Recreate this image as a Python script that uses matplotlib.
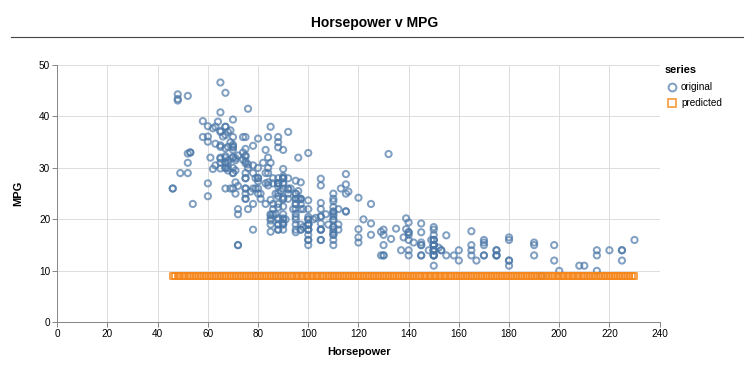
import matplotlib
matplotlib.use("Agg")
import matplotlib.pyplot as plt
from matplotlib.lines import Line2D

plt.rcParams['font.family'] = ['Liberation Sans', 'DejaVu Sans']

# ---- data (cars dataset: Horsepower vs Miles_per_Gallon) ----
horsepower = [
    130, 165, 150, 150, 140, 198, 220, 215, 225, 190,
    170, 160, 150, 225, 95, 95, 97, 85, 88, 46,
    87, 90, 95, 113, 90, 215, 200, 210, 193,
    88, 90, 95,
    100, 105, 100, 88, 100, 165, 175, 153, 150, 180,
    170, 175, 110, 72, 100, 88, 86, 90, 70, 76,
    65, 69, 60, 70, 95, 80, 54, 90, 86, 165,
    175, 150, 153, 150, 208, 155, 160, 190, 97, 150,
    130, 140, 150, 112, 76, 87, 69, 86, 92, 97,
    80, 88, 175, 150, 145, 137, 150, 198, 150, 158,
    150, 215, 225, 175, 105, 100, 100, 88, 95, 46,
    150, 167, 170, 180, 100, 88, 72, 94, 90, 85,
    107, 90, 145, 230, 49, 75, 91, 112, 150, 110,
    122, 180, 95,
    100, 100, 67, 80, 65, 75, 100, 110, 105, 140,
    150, 150, 140, 150, 83, 67, 78, 52, 61, 75,
    75, 75, 97, 93, 67, 95, 105, 72, 72, 170,
    145, 150, 148, 110, 105, 110, 95, 110, 110, 129,
    75, 83, 100, 78, 96, 71, 97, 97, 70, 90,
    95, 88, 98, 115, 53, 86, 81, 92, 79, 83,
    140, 150, 120, 152, 100, 105, 81, 90, 52, 60,
    70, 53, 100, 78, 110, 95, 71, 70, 75, 72,
    102, 150, 88, 108, 120, 180, 145, 130, 150,
    68, 80, 58, 96, 70, 145, 110, 145, 130, 110,
    105, 100, 98, 180, 170, 190, 149, 78, 88, 75,
    89, 63, 83, 67, 78, 97, 110, 110, 48, 66,
    52, 70, 60, 110, 140, 139, 105, 95, 85, 88,
    100, 90, 105, 85, 110, 120, 145, 165, 139, 140,
    68, 95, 97, 75, 95, 105, 85, 97, 103, 125,
    115, 133, 71, 68, 115, 85, 88, 90, 110, 130,
    129, 138, 135, 155, 142, 125, 150, 71, 65, 80,
    80, 77, 125, 71, 90, 70, 70, 65, 69, 90,
    115, 115, 90, 76, 60, 70, 65, 90, 88, 90,
    90, 78, 90, 75, 92, 75, 65, 105, 65, 48,
    48, 67, 67, 67,
    67, 62, 132, 100, 88,
    72, 84, 84, 92, 110, 84, 58, 64, 60, 67,
    65, 62, 68, 63, 65, 65, 74,
    75, 75, 100, 74, 80, 76, 116, 120, 110, 105,
    88, 85, 88, 88, 88, 85, 84, 90, 92,
    74, 68, 68, 63, 70, 88, 75, 70, 67, 67,
    67, 110, 85, 92, 112, 96, 84, 90, 86, 52, 84, 79, 82,
]
mpg = [
    18, 15, 18, 16, 17, 15, 14, 14, 14, 15,
    15, 14, 15, 14, 24, 22, 18, 21, 27, 26,
    25, 24, 25, 26, 21, 10, 10, 11, 9,
    27, 28, 25,
    19, 16, 17, 19, 18, 14, 14, 14, 14, 12,
    13, 13, 18, 22, 19, 18, 23, 28, 30, 30,
    31, 35, 27, 26, 24, 25, 23, 20, 21, 13,
    14, 15, 14, 17, 11, 13, 12, 13, 19, 15,
    13, 13, 14, 18, 22, 21, 26, 22, 28, 23,
    28, 27, 13, 14, 13, 14, 15, 12, 13, 13,
    14, 13, 12, 13, 18, 16, 18, 18, 23, 26,
    11, 12, 13, 12, 18, 20, 21, 22, 18, 19,
    21, 26, 15, 16, 29, 24, 20, 19, 15, 24,
    20, 11, 20,
    19, 15, 31, 26, 32, 25, 16, 16, 18, 16,
    13, 14, 14, 14, 29, 26, 26, 31, 32, 28,
    24, 26, 24, 26, 31, 19, 18, 15, 15, 16,
    15, 16, 14, 17, 16, 15, 18, 21, 20, 13,
    29, 23, 20, 23, 24, 25, 24, 18, 29, 19,
    23, 23, 22, 25, 33, 28, 25, 25, 26, 27,
    17.5, 16, 15.5, 14.5, 22, 22, 24, 22.5, 29, 24.5,
    29, 33, 20, 18, 18.5, 17.5, 29.5, 32, 28, 26.5,
    20, 13, 19, 19, 16.5, 16.5, 13, 13, 13,
    31.5, 30, 36, 25.5, 33.5, 17.5, 17, 15.5, 15, 17.5,
    20.5, 19, 18.5, 16, 15.5, 15.5, 16, 29, 24.5, 26,
    25.5, 30.5, 33.5, 30, 30.5, 22, 21.5, 21.5, 43.1, 36.1,
    32.8, 39.4, 36.1, 19.9, 19.4, 20.2, 19.2, 20.5, 20.2, 25.1,
    20.5, 19.4, 20.6, 20.8, 18.6, 18.1, 19.2, 17.7, 18.1, 17.5,
    30, 27.5, 27.2, 30.9, 21.1, 23.2, 23.8, 23.9, 20.3, 17,
    21.6, 16.2, 31.5, 29.5, 21.5, 19.8, 22.3, 20.2, 20.6, 17,
    17.6, 16.5, 18.2, 16.9, 15.5, 19.2, 18.5, 31.9, 34.1, 35.7,
    27.4, 25.4, 23, 27.2, 23.9, 34.2, 34.5, 31.8, 37.3, 28.4,
    28.8, 26.8, 33.5, 41.5, 38.1, 32.1, 37.2, 28, 26.4, 24.3,
    19.1, 34.3, 29.8, 31.3, 37, 32.2, 46.6, 27.9, 40.8, 44.3,
    43.4, 36.4, 30, 44.6,
    33.8, 29.8, 32.7, 23.7, 35,
    32.4, 27.2, 26.6, 25.8, 23.5, 30, 39.1, 39, 35.1, 32.3,
    37, 37.7, 34.1, 34.7, 34.4, 29.9, 33,
    33.7, 32.4, 32.9, 31.6, 28.1, 30.7, 25.4, 24.2, 22.4, 26.6,
    20.2, 17.6, 28, 27, 34, 31, 29, 27, 24,
    36, 37, 31, 38, 36, 36, 36, 34, 38, 32,
    38, 25, 38, 26, 22, 32, 36, 27, 27, 44, 32, 28, 31,
]
# predicted series: evenly spaced horsepower values across the observed range,
# every prediction read at ~9 MPG
predicted_hp = [
    46, 47, 48, 49, 50, 51, 52, 53, 54, 55, 56, 57, 58, 59, 60, 61, 62, 63, 64, 65,
    66, 67, 68, 69, 70, 71, 72, 73, 74, 75, 76, 77, 78, 79, 80, 81, 82, 83, 84, 85,
    86, 87, 88, 89, 90, 91, 92, 93, 94, 95, 96, 97, 98, 99, 100, 101, 102, 103, 104, 105,
    106, 107, 108, 109, 110, 111, 112, 113, 114, 115, 116, 117, 118, 119, 120, 121, 122, 123, 124, 125,
    126, 127, 128, 129, 130, 131, 132, 133, 134, 135, 136, 137, 138, 139, 140, 141, 142, 143, 144, 145,
    146, 147, 148, 149, 150, 151, 152, 153, 154, 155, 156, 157, 158, 159, 160, 161, 162, 163, 164, 165,
    166, 167, 168, 169, 170, 171, 172, 173, 174, 175, 176, 177, 178, 179, 180, 181, 182, 183, 184, 185,
    186, 187, 188, 189, 190, 191, 192, 193, 194, 195, 196, 197, 198, 199, 200, 201, 202, 203, 204, 205,
    206, 207, 208, 209, 210, 211, 212, 213, 214, 215, 216, 217, 218, 219, 220, 221, 222, 223, 224, 225,
    226, 227, 228, 229, 230,
]
predicted_mpg = [9.0] * len(predicted_hp)

series_names = ["original", "predicted"]
x_ticks = [0, 20, 40, 60, 80, 100, 120, 140, 160, 180, 200, 220, 240]
y_ticks = [0, 10, 20, 30, 40, 50]

BLUE = "#4c78a8"
ORANGE = "#f58518"
W, H = 750, 371

fig = plt.figure(figsize=(W / 100, H / 100), dpi=100)
x0, x1, y0, y1 = 57.3, 659.6, 65.0, 322.3
ax = fig.add_axes([x0 / W, 1 - y1 / H, (x1 - x0) / W, (y1 - y0) / H])

ax.scatter(horsepower, mpg, s=19.8, marker="o", facecolors="none",
           edgecolors=BLUE, linewidths=1.44, alpha=0.7, zorder=3, clip_on=False)
ax.scatter(predicted_hp, predicted_mpg, s=16.5, marker="s", facecolors="none",
           edgecolors=ORANGE, linewidths=1.44, alpha=0.75, zorder=4, clip_on=False)

ax.set_xlim(0, 240)
ax.set_ylim(0, 50)
ax.set_xticks(x_ticks)
ax.set_yticks(y_ticks)
ax.grid(True, color="#dddddd", linewidth=0.72, zorder=0)
ax.set_axisbelow(True)
for s in ["top", "right"]:
    ax.spines[s].set_visible(False)
for s in ["left", "bottom"]:
    ax.spines[s].set_color("#888888")
    ax.spines[s].set_linewidth(0.72)
ax.tick_params(axis="both", direction="out", length=3.6, width=0.72,
               color="#888888", labelsize=7.2, labelcolor="#000000", pad=1.5)

# titles
fig.text(0.5, 1 - 23 / H, "Horsepower v MPG", ha="center", va="center",
         fontsize=10, fontweight="bold", color="#000000")
fig.add_artist(Line2D([10.6 / W, 743 / W], [1 - 37.3 / H] * 2,
                      color="#444444", linewidth=0.8))
fig.text(359 / W, 1 - 352 / H, "Horsepower", ha="center", va="center",
         fontsize=7.9, fontweight="bold")
fig.text(18 / W, 1 - 193 / H, "MPG", ha="center", va="center",
         fontsize=7.9, fontweight="bold", rotation=90)

# legend
fig.text(665 / W, 1 - 70 / H, "series", ha="left", va="center",
         fontsize=7.9, fontweight="bold")
leg_markers = ["o", "s"]
leg_colors = [BLUE, ORANGE]
leg_sizes = [5.6, 5.2]
for i, name in enumerate(series_names):
    yy = 1 - (86.7 + 16 * i) / H
    fig.add_artist(Line2D([671.5 / W], [yy], marker=leg_markers[i], markersize=leg_sizes[i],
                          markerfacecolor="none", markeredgecolor=leg_colors[i],
                          markeredgewidth=1.44, alpha=0.7, linestyle="none"))
    fig.text(681 / W, yy, name, ha="left", va="center", fontsize=7.2)

fig.savefig("out.png", dpi=100)
